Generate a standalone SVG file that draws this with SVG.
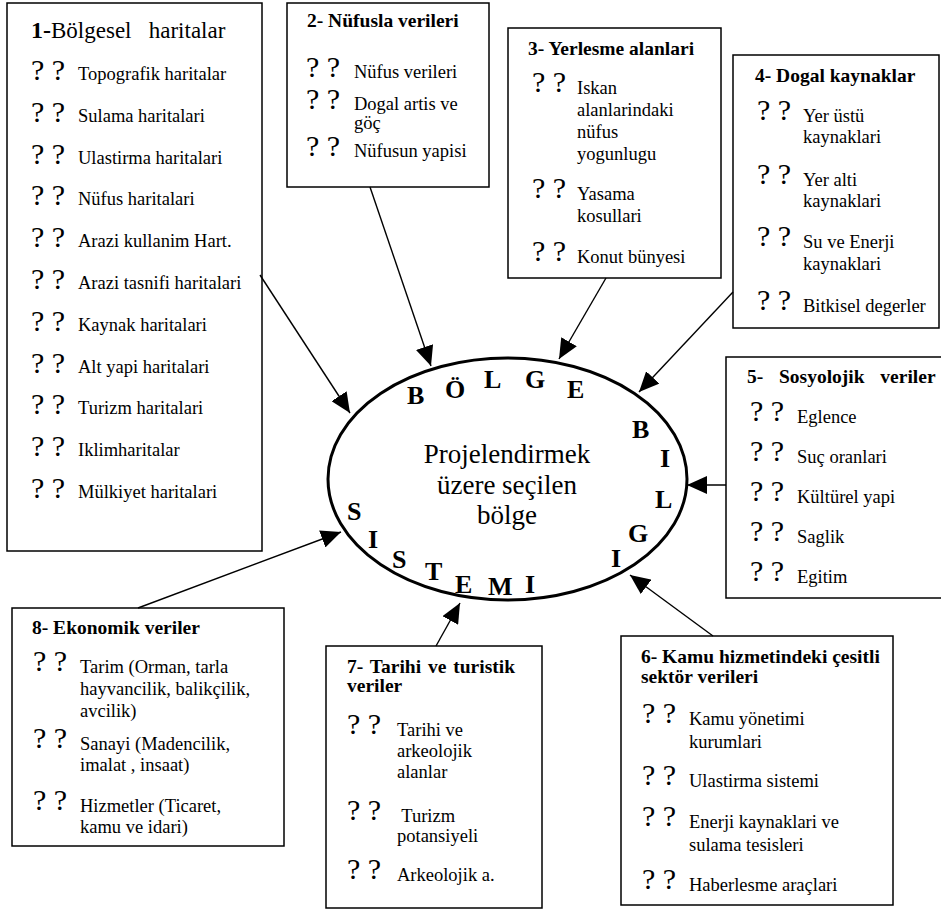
<svg xmlns="http://www.w3.org/2000/svg" width="941" height="911" viewBox="0 0 941 911" font-family="'Liberation Serif', 'DejaVu Serif', serif">
<style>
.box{fill:#fff;stroke:#000;stroke-width:1.5}
.t,.h,.q,.ring,.c,.ti{font-family:'Liberation Serif','DejaVu Serif',serif;fill:#000;white-space:pre}
.t{font-size:18.5px}
.h{font-size:19.5px;font-weight:bold}
.q{font-size:30px}
.ring{font-size:26px;font-weight:bold}
.c{font-size:27px;text-anchor:middle}
.conn line{stroke:#000;stroke-width:1.4;marker-end:url(#ah)}
</style>
<defs>
<marker id="ah" markerUnits="userSpaceOnUse" markerWidth="21" markerHeight="18" refX="20" refY="9" orient="auto">
<path d="M0,0 L20,9 L0,18 z" fill="#000"/>
</marker>
</defs>
<rect width="941" height="911" fill="#fff"/>

<g id="center">
<ellipse cx="507.5" cy="479" rx="179.5" ry="121" fill="none" stroke="#000" stroke-width="3"/>
<text class="c" x="507" y="463">Projelendirmek</text>
<text class="c" x="507" y="494">üzere seçilen</text>
<text class="c" x="507" y="524">bölge</text>
<text class="ring" x="407" y="404">B</text>
<text class="ring" x="445" y="398">Ö</text>
<text class="ring" x="484" y="388">L</text>
<text class="ring" x="525" y="388">G</text>
<text class="ring" x="567" y="398">E</text>
<text class="ring" x="632" y="438">B</text>
<text class="ring" x="660" y="467">I</text>
<text class="ring" x="655" y="508">L</text>
<text class="ring" x="628" y="542">G</text>
<text class="ring" x="611" y="567">I</text>
<text class="ring" x="347" y="520">S</text>
<text class="ring" x="368" y="548">I</text>
<text class="ring" x="392" y="568">S</text>
<text class="ring" x="425" y="580">T</text>
<text class="ring" x="455" y="593">E</text>
<text class="ring" x="488" y="595">M</text>
<text class="ring" x="525" y="593">I</text>
</g>

<g id="node1">
<rect class="box" x="7" y="3" width="255" height="548"/>
<text class="ti" x="31" y="38"><tspan style="font-size:24px;font-weight:bold">1-</tspan><tspan style="font-size:23px">Bölgesel   haritalar</tspan></text>
<text class="q" x="31" y="80">? ?</text><text class="t" x="78" y="80">Topografik haritalar</text>
<text class="q" x="31" y="121.8">? ?</text><text class="t" x="78" y="121.8">Sulama haritalari</text>
<text class="q" x="31" y="163.6">? ?</text><text class="t" x="78" y="163.6">Ulastirma haritalari</text>
<text class="q" x="31" y="205.4">? ?</text><text class="t" x="78" y="205.4">Nüfus haritalari</text>
<text class="q" x="31" y="247.2">? ?</text><text class="t" x="78" y="247.2">Arazi kullanim Hart.</text>
<text class="q" x="31" y="289">? ?</text><text class="t" x="78" y="289">Arazi tasnifi haritalari</text>
<text class="q" x="31" y="330.8">? ?</text><text class="t" x="78" y="330.8">Kaynak haritalari</text>
<text class="q" x="31" y="372.6">? ?</text><text class="t" x="78" y="372.6">Alt yapi haritalari</text>
<text class="q" x="31" y="414.4">? ?</text><text class="t" x="78" y="414.4">Turizm haritalari</text>
<text class="q" x="31" y="456.2">? ?</text><text class="t" x="78" y="456.2">Iklimharitalar</text>
<text class="q" x="31" y="498">? ?</text><text class="t" x="78" y="498">Mülkiyet haritalari</text>
</g>

<g id="node2">
<rect class="box" x="287" y="3" width="202" height="184"/>
<text class="h" x="307" y="27">2- Nüfusla verileri</text>
<text class="q" x="306" y="77">? ?</text><text class="t" x="354" y="78">Nüfus verileri</text>
<text class="q" x="306" y="109">? ?</text><text class="t" x="354" y="110">Dogal artis ve</text>
<text class="t" x="354" y="129">göç</text>
<text class="q" x="306" y="156">? ?</text><text class="t" x="354" y="157">Nüfusun yapisi</text>
</g>

<g id="node3">
<rect class="box" x="508" y="28" width="213" height="250"/>
<text class="h" x="528" y="55">3- Yerlesme alanlari</text>
<text class="q" x="532" y="92">? ?</text><text class="t" x="577" y="94">Iskan</text>
<text class="t" x="577" y="116">alanlarindaki</text>
<text class="t" x="577" y="138">nüfus</text>
<text class="t" x="577" y="160">yogunlugu</text>
<text class="q" x="532" y="198">? ?</text><text class="t" x="577" y="200">Yasama</text>
<text class="t" x="577" y="222">kosullari</text>
<text class="q" x="532" y="261">? ?</text><text class="t" x="577" y="263">Konut bünyesi</text>
</g>

<g id="node4">
<rect class="box" x="733" y="55" width="206" height="273"/>
<text class="h" x="755" y="82">4- Dogal kaynaklar</text>
<text class="q" x="757" y="120">? ?</text><text class="t" x="803" y="122">Yer üstü</text>
<text class="t" x="803" y="143">kaynaklari</text>
<text class="q" x="757" y="184">? ?</text><text class="t" x="803" y="186">Yer alti</text>
<text class="t" x="803" y="207">kaynaklari</text>
<text class="q" x="757" y="246">? ?</text><text class="t" x="803" y="248">Su ve Enerji</text>
<text class="t" x="803" y="270">kaynaklari</text>
<text class="q" x="757" y="310">? ?</text><text class="t" x="803" y="312">Bitkisel degerler</text>
</g>

<g id="node5">
<rect class="box" x="726" y="357" width="230" height="241"/>
<text class="h" x="747" y="383" word-spacing="3">5-  Sosyolojik  veriler</text>
<text class="q" x="750" y="421">? ?</text><text class="t" x="797" y="423">Eglence</text>
<text class="q" x="750" y="461">? ?</text><text class="t" x="797" y="463">Suç oranlari</text>
<text class="q" x="750" y="501">? ?</text><text class="t" x="797" y="503">Kültürel yapi</text>
<text class="q" x="750" y="541">? ?</text><text class="t" x="797" y="543">Saglik</text>
<text class="q" x="750" y="581">? ?</text><text class="t" x="797" y="583">Egitim</text>
</g>

<g id="node6">
<rect class="box" x="621" y="636" width="272" height="269"/>
<text class="h" x="641" y="663">6- Kamu hizmetindeki çesitli</text>
<text class="h" x="641" y="683">sektör verileri</text>
<text class="q" x="642" y="723">? ?</text><text class="t" x="689" y="725">Kamu yönetimi</text>
<text class="t" x="689" y="748">kurumlari</text>
<text class="q" x="642" y="785">? ?</text><text class="t" x="689" y="787">Ulastirma sistemi</text>
<text class="q" x="642" y="826">? ?</text><text class="t" x="689" y="828">Enerji kaynaklari ve</text>
<text class="t" x="689" y="851">sulama tesisleri</text>
<text class="q" x="642" y="889">? ?</text><text class="t" x="689" y="891">Haberlesme araçlari</text>
</g>

<g id="node7">
<rect class="box" x="326" y="646" width="216" height="262"/>
<text class="h" x="347" y="673" word-spacing="2">7- Tarihi ve turistik</text>
<text class="h" x="347" y="692">veriler</text>
<text class="q" x="347" y="734">? ?</text><text class="t" x="397" y="736">Tarihi ve</text>
<text class="t" x="397" y="757">arkeolojik</text>
<text class="t" x="397" y="778">alanlar</text>
<text class="q" x="347" y="820">? ?</text><text class="t" x="397" y="822"> Turizm</text>
<text class="t" x="397" y="842">potansiyeli</text>
<text class="q" x="347" y="879">? ?</text><text class="t" x="397" y="881">Arkeolojik a.</text>
</g>

<g id="node8">
<rect class="box" x="12" y="608" width="272" height="238"/>
<text class="h" x="32" y="634">8- Ekonomik veriler</text>
<text class="q" x="33" y="671">? ?</text><text class="t" x="80" y="673">Tarim (Orman, tarla</text>
<text class="t" x="80" y="695">hayvancilik, balikçilik,</text>
<text class="t" x="80" y="717">avcilik)</text>
<text class="q" x="33" y="748">? ?</text><text class="t" x="80" y="750">Sanayi (Madencilik,</text>
<text class="t" x="80" y="771">imalat , insaat)</text>
<text class="q" x="33" y="810">? ?</text><text class="t" x="80" y="812">Hizmetler (Ticaret,</text>
<text class="t" x="80" y="833">kamu ve idari)</text>
</g>

<g id="connectors" class="conn">
<line x1="260" y1="275" x2="350" y2="413"/>
<line x1="370" y1="187" x2="431" y2="366"/>
<line x1="606" y1="278" x2="559" y2="359"/>
<line x1="733" y1="292" x2="639" y2="392"/>
<line x1="726" y1="485" x2="687" y2="485"/>
<line x1="713" y1="636" x2="630" y2="575"/>
<line x1="436" y1="646" x2="460" y2="603"/>
<line x1="138" y1="608" x2="341" y2="532"/>
</g>
</svg>
